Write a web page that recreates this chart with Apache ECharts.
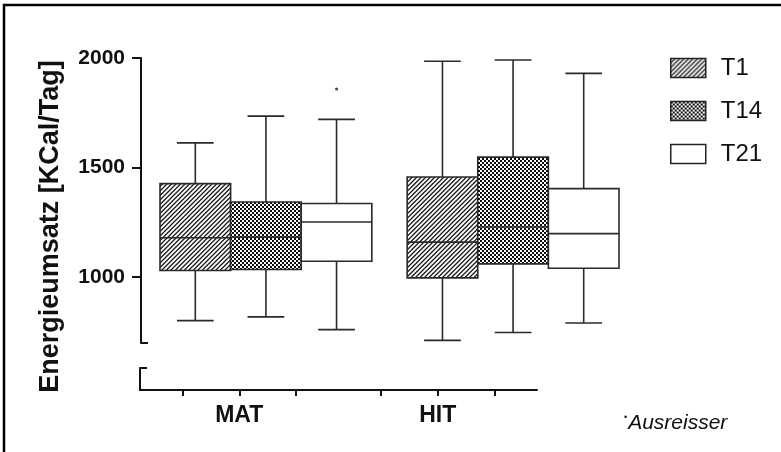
<!DOCTYPE html>
<html><head><meta charset="utf-8">
<script src="https://cdn.jsdelivr.net/npm/echarts@6/dist/echarts.min.js"></script>
<style>html,body{margin:0;padding:0;background:#fff}#c{width:781px;height:452px}</style>
</head><body><div id="c"></div>
<script>
// ---- data ----
const groups = ['MAT', 'HIT'];
const timepoints = ['T1', 'T14', 'T21'];
// [low whisker, Q1, median, Q3, high whisker] per group
const T1  = [[802, 1031, 1180, 1427, 1613], [712, 997, 1160, 1457, 1985]];
const T14 = [[819, 1035, 1183, 1343, 1735], [748, 1061, 1229, 1548, 1991]];
const T21 = [[761, 1073, 1252, 1336, 1720], [791, 1041, 1199, 1404, 1930]];
const outlierGroup = ['MAT'];
const outlierTime = ['T21'];
const outlierValue = [1859];
const yTicks = [1000, 1500, 2000];
const footnote = 'Ausreisser';
const yTitle = 'Energieumsatz [KCal/Tag]';

// ---- patterns ----
function hatchCanvas() {
  const s = 9, c = document.createElement('canvas'); c.width = c.height = s;
  const g = c.getContext('2d');
  g.fillStyle = '#fff'; g.fillRect(0, 0, s, s);
  g.strokeStyle = '#1a1a1a'; g.lineWidth = 1.3; g.beginPath();
  for (let k = -2; k <= 4; k++) { const o = k * 4.5; g.moveTo(o - 1, s + 1); g.lineTo(o + s + 1, -1); }
  g.stroke(); return c;
}
function checkCanvas() {
  const c = document.createElement('canvas'); c.width = c.height = 4;
  const g = c.getContext('2d');
  g.fillStyle = '#fff'; g.fillRect(0, 0, 4, 4);
  g.fillStyle = '#0a0a0a'; g.fillRect(0, 0, 2, 2); g.fillRect(2, 2, 2, 2);
  return c;
}
const fills = [
  { image: hatchCanvas(), repeat: 'repeat' },
  { image: checkCanvas(), repeat: 'repeat' },
  '#ffffff'
];
const seriesData = [T1, T14, T21];

const chart = echarts.init(document.getElementById('c'), null, { renderer: 'canvas' });
const FONT = '"Liberation Sans", Arial, sans-serif';
const LINE = '#2a2a2a';

function pos(g, t) { return g * 3.5 + t; }

function makeRender(fill) {
  return function (params, api) {
    const x = api.value(0);
    const cx = api.coord([x, api.value(1)])[0];
    const yLow = api.coord([x, api.value(1)])[1];
    const yQ1 = api.coord([x, api.value(2)])[1];
    const yMed = api.coord([x, api.value(3)])[1];
    const yQ3 = api.coord([x, api.value(4)])[1];
    const yHigh = api.coord([x, api.value(5)])[1];
    const w = api.size([1, 0])[0];
    const half = w / 2, cap = w * 0.26;
    const ls = { stroke: LINE, lineWidth: 1.6 };
    return {
      type: 'group', children: [
        { type: 'line', shape: { x1: cx, y1: yHigh, x2: cx, y2: yQ3 }, style: ls },
        { type: 'line', shape: { x1: cx, y1: yQ1, x2: cx, y2: yLow }, style: ls },
        { type: 'line', shape: { x1: cx - cap, y1: yHigh, x2: cx + cap, y2: yHigh }, style: ls },
        { type: 'line', shape: { x1: cx - cap, y1: yLow, x2: cx + cap, y2: yLow }, style: ls },
        { type: 'rect', shape: { x: cx - half, y: yQ3, width: w, height: yQ1 - yQ3 }, style: { fill: fill, stroke: LINE, lineWidth: 1.6 } },
        { type: 'line', shape: { x1: cx - half, y1: yMed, x2: cx + half, y2: yMed }, style: ls }
      ]
    };
  };
}

const series = timepoints.map((t, ti) => ({
  name: t,
  type: 'custom',
  xAxisIndex: 0, yAxisIndex: 0,
  renderItem: makeRender(fills[ti]),
  itemStyle: { color: fills[ti], borderColor: '#222', borderWidth: 1.5 },
  encode: { x: 0, y: [1, 2, 3, 4, 5] },
  data: seriesData[ti].map((v, gi) => [pos(gi, ti)].concat(v)),
  clip: false,
  silent: true
}));
series.push({
  type: 'scatter', xAxisIndex: 0, yAxisIndex: 0,
  symbolSize: 3, itemStyle: { color: '#111' },
  data: outlierValue.map((v, i) => [pos(groups.indexOf(outlierGroup[i]), timepoints.indexOf(outlierTime[i])), v]),
  silent: true
});

const xTickVals = [];
groups.forEach((g, gi) => timepoints.forEach((t, ti) => xTickVals.push(0.75 + gi * 3.5 + ti)));
const xLabelVals = groups.map((g, gi) => 1.75 + gi * 3.5);

const option = {
  animation: false,
  backgroundColor: '#fff',
  grid: [
    { left: 160, right: 162, top: 58, height: 285 },
    { left: 140, right: 244, top: 368, height: 22 },
    { left: 142, right: 244, top: 58, height: 337 }
  ],
  xAxis: [
    { gridIndex: 0, type: 'value', min: -0.5, max: 6, show: false, axisLine: { onZero: false } },
    {
      gridIndex: 1, type: 'value', min: 0, max: 7, position: 'bottom',
      axisLine: { onZero: false, lineStyle: { color: '#111', width: 2 } },
      axisTick: { length: 6, customValues: xTickVals, lineStyle: { color: '#111', width: 2 } },
      axisLabel: {
        customValues: xLabelVals, margin: 14, color: '#111',
        fontFamily: FONT, fontWeight: 'bold', fontSize: 23,
        formatter: v => groups[Math.round((v - 1.75) / 3.5)]
      },
      splitLine: { show: false }
    },
    { gridIndex: 2, type: 'value', show: false, axisLine: { onZero: false } }
  ],
  yAxis: [
    {
      gridIndex: 0, type: 'value', min: 700, max: 2000, offset: 19, position: 'left',
      axisLine: { show: true, onZero: false, lineStyle: { color: '#111', width: 2 } },
      axisTick: { show: true, length: 9, customValues: yTicks, lineStyle: { color: '#111', width: 2 } },
      axisLabel: { customValues: yTicks, margin: 16, color: '#111', fontFamily: FONT, fontWeight: 'bold', fontSize: 21, formatter: v => String(v) },
      splitLine: { show: false }
    },
    {
      gridIndex: 1, type: 'value', min: 0, max: 1, position: 'left',
      axisLine: { show: true, onZero: false, lineStyle: { color: '#111', width: 2 } },
      axisTick: { show: true, inside: true, length: 7, customValues: [1], lineStyle: { color: '#111', width: 2 } },
      axisLabel: { show: false }, splitLine: { show: false }
    },
    {
      gridIndex: 0, type: 'value', min: 700, max: 2000, offset: 19, position: 'left',
      axisLine: { show: false, onZero: false },
      axisTick: { show: true, inside: true, length: 7, customValues: [700], lineStyle: { color: '#111', width: 2 } },
      axisLabel: { show: false }, splitLine: { show: false }
    },
    {
      gridIndex: 2, type: 'value', min: 0, max: 1, position: 'left',
      name: yTitle, nameLocation: 'middle', nameGap: 78,
      nameTextStyle: { fontFamily: FONT, fontWeight: 'bold', fontSize: 27, color: '#111' },
      axisLine: { show: false, onZero: false }, axisTick: { show: false }, axisLabel: { show: false }, splitLine: { show: false }
    }
  ],
  legend: {
    orient: 'vertical', left: 670, top: 56, padding: 0,
    itemWidth: 35, itemHeight: 19, itemGap: 19,
    selectedMode: false,
    textStyle: { fontFamily: FONT, fontSize: 24, color: '#111', padding: [0, 0, 0, 10] },
    data: timepoints.map((t, ti) => ({
      name: t, icon: 'rect',
      itemStyle: { color: fills[ti], borderColor: '#222', borderWidth: 1.5 }
    }))
  },
  graphic: [
    { type: 'polyline', shape: { points: [[4, 452], [4, 5], [781, 5]] }, style: { stroke: '#000', lineWidth: 2.5, fill: null } },
    {
      type: 'text', left: 624, top: 413,
      style: {
        text: '{d|•}{t|' + footnote + '}',
        rich: {
          d: { fontSize: 9, verticalAlign: 'top', fontFamily: FONT, fill: '#111', padding: [0, 1, 10, 0] },
          t: { fontSize: 21, fontStyle: 'italic', fontFamily: FONT, fill: '#111' }
        }
      }
    }
  ],
  series: series
};
chart.setOption(option);
</script></body></html>
